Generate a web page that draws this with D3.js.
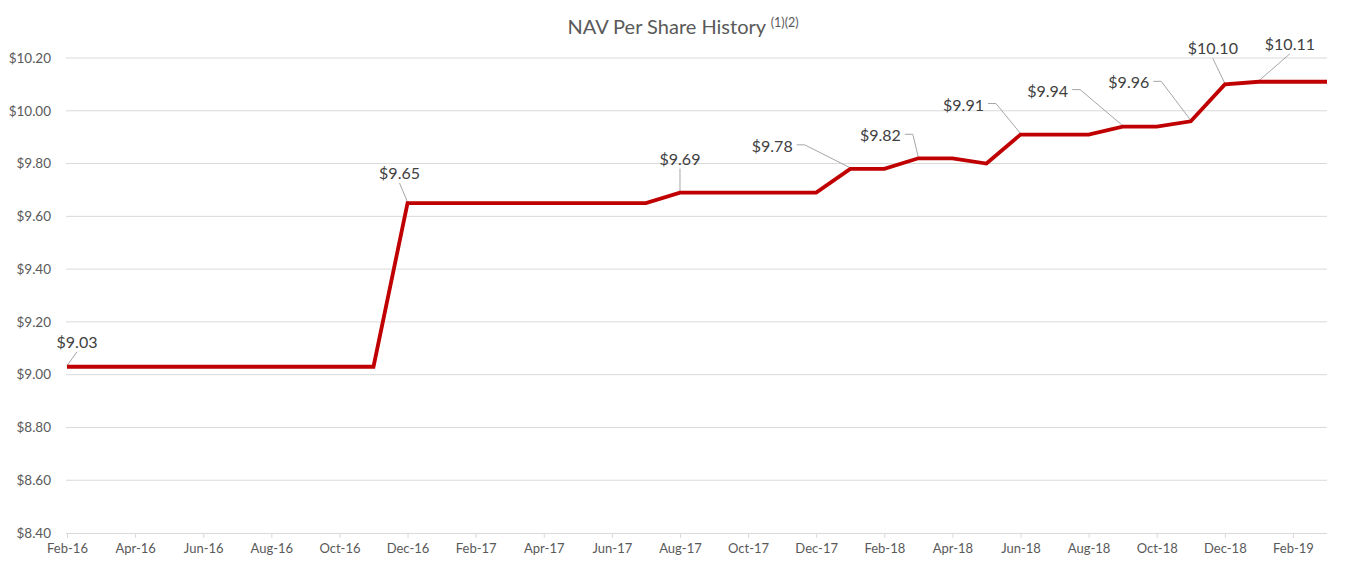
<!DOCTYPE html>
<html><head><meta charset="utf-8">
<script src="https://cdn.jsdelivr.net/npm/d3@7"></script>
<style>body{margin:0;background:#fff;font-family:Lato,"Open Sans",sans-serif;}</style>
</head><body><svg id="c" width="1365" height="569"></svg>
<script>
const months = ["Feb-16","Mar-16","Apr-16","May-16","Jun-16","Jul-16","Aug-16","Sep-16","Oct-16","Nov-16","Dec-16",
"Jan-17","Feb-17","Mar-17","Apr-17","May-17","Jun-17","Jul-17","Aug-17","Sep-17","Oct-17","Nov-17","Dec-17",
"Jan-18","Feb-18","Mar-18","Apr-18","May-18","Jun-18","Jul-18","Aug-18","Sep-18","Oct-18","Nov-18","Dec-18",
"Jan-19","Feb-19","Mar-19"];
const nav = [9.03,9.03,9.03,9.03,9.03,9.03,9.03,9.03,9.03,9.03,9.65,
9.65,9.65,9.65,9.65,9.65,9.65,9.65,9.69,9.69,9.69,9.69,9.69,
9.78,9.78,9.82,9.82,9.80,9.91,9.91,9.91,9.94,9.94,9.96,10.10,
10.11,10.11,10.11];
const xTickLabels = ["Feb-16","Apr-16","Jun-16","Aug-16","Oct-16","Dec-16","Feb-17","Apr-17","Jun-17","Aug-17","Oct-17","Dec-17","Feb-18","Apr-18","Jun-18","Aug-18","Oct-18","Dec-18","Feb-19"];
const yTicks = [8.40,8.60,8.80,9.00,9.20,9.40,9.60,9.80,10.00,10.20];
const labelMonths = ["Feb-16","Dec-16","Aug-17","Jan-18","Mar-18","Jun-18","Sep-18","Nov-18","Dec-18","Jan-19"];
const labelTexts = ["$9.03","$9.65","$9.69","$9.78","$9.82","$9.91","$9.94","$9.96","$10.10","$10.11"];

const labelOffsets = [[10,-19],[-8,-24],[0,-28],[-78,-17],[-38,-17],[-57,-24],[-75,-30],[-62,-33],[-12,-30],[31,-32]];

const svg = d3.select("#c");
const L = 67, R = 1327, T = 58, B = 533;
const FF = "Lato,'Open Sans',sans-serif";
const x = d3.scalePoint().domain(months).range([L, R]);
const y = d3.scaleLinear().domain([8.40, 10.20]).range([B, T]);

svg.append("g").selectAll("line").data(yTicks.slice(1)).join("line")
  .attr("x1", L-1).attr("x2", R).attr("y1", d=>y(d)).attr("y2", d=>y(d))
  .attr("stroke", "#d9d9d9").attr("stroke-width", 1);

const yAxis = d3.axisLeft(y).tickValues(yTicks).tickSize(0).tickPadding(16).tickFormat(d=>"$"+d3.format(".2f")(d));
const gy = svg.append("g").attr("transform", `translate(${L},0)`).call(yAxis);
gy.select(".domain").remove();
gy.selectAll("text").attr("fill","#595959").style("font-size","13.5px").style("font-family",FF);

const xAxis = d3.axisBottom(x).tickValues(xTickLabels).tickSize(5).tickPadding(6);
const gx = svg.append("g").attr("transform", `translate(0,${B})`).call(xAxis);
gx.select(".domain").attr("d", `M${L-1},0.5H${R}`).attr("stroke","#d9d9d9");
gx.selectAll(".tick line").attr("stroke","#d9d9d9");
gx.selectAll("text").attr("fill","#595959").style("font-size","13px").style("font-family",FF);

const gLead = svg.append("g");
const line = d3.line().x((d,i)=>x(months[i])).y(d=>y(d));
svg.append("path").datum(nav).attr("d", line).attr("fill","none")
  .attr("stroke","#c00000").attr("stroke-width",3.8).attr("stroke-linejoin","miter");
const gLab = svg.append("g");

labelMonths.forEach((m,k)=>{
  const i = months.indexOf(m);
  const px = x(m), py = y(nav[i]);
  const [dx,dy] = labelOffsets[k];
  const tx = px+dx, ty = py+dy;
  const t = gLab.append("text").attr("x", tx).attr("y", ty).attr("text-anchor","middle")
    .attr("fill","#404040").style("font-size","16px").style("font-family",FF).text(labelTexts[k]);
  const w = t.node().getComputedTextLength()/2;
  let pts;
  if (dx < -25) {
    pts = [[tx+w+4, ty-7],[tx+w+12, ty-7],[px, py-1]];
  } else {
    pts = [[tx, ty+4],[px, py-1]];
  }
  gLead.append("path").attr("d", d3.line()(pts)).attr("fill","none").attr("stroke","#a6a6a6").attr("stroke-width",1);
});

const title = svg.append("text").attr("x", 683).attr("y", 34).attr("text-anchor","middle")
  .attr("fill","#595959").style("font-size","20px").style("font-family",FF);
title.append("tspan").text("NAV Per Share History ");
title.append("tspan").attr("dy",-7).style("font-size","12.5px").text("(1)(2)");
</script></body></html>
